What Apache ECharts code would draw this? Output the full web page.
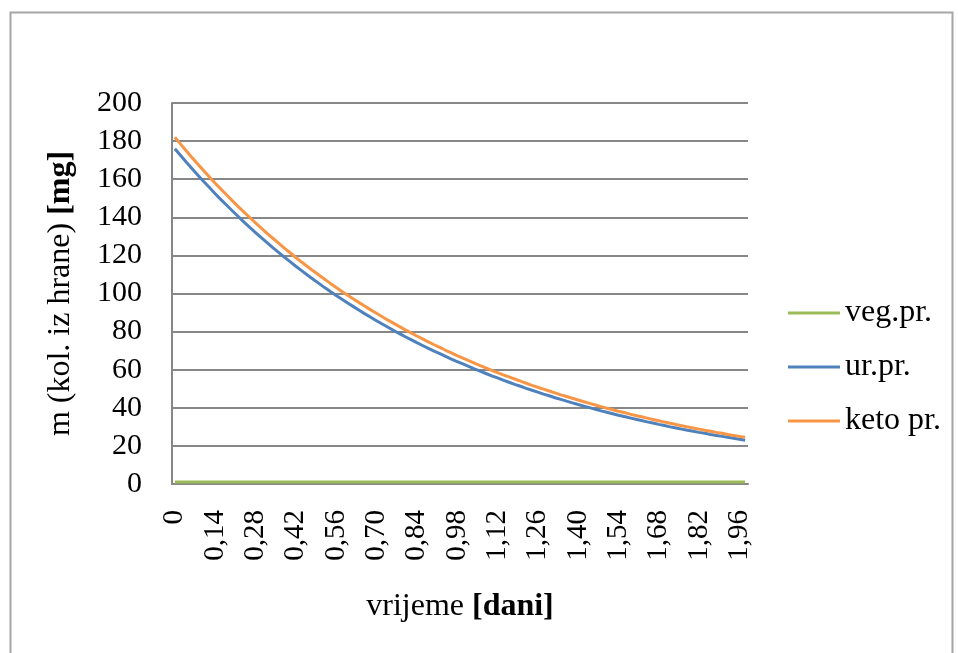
<!DOCTYPE html>
<html>
<head>
<meta charset="utf-8">
<script src="https://cdn.jsdelivr.net/npm/echarts@6/dist/echarts.min.js"></script>
<style>
html,body{margin:0;padding:0;background:#fff;}
#chart{width:958px;height:653px;}
</style>
</head>
<body>
<div id="chart"></div>
<script>
const categories = ['0','0,02','0,04','0,06','0,08','0,10','0,12','0,14','0,16','0,18',
'0,20','0,22','0,24','0,26','0,28','0,30','0,32','0,34','0,36','0,38',
'0,40','0,42','0,44','0,46','0,48','0,50','0,52','0,54','0,56','0,58',
'0,60','0,62','0,64','0,66','0,68','0,70','0,72','0,74','0,76','0,78',
'0,80','0,82','0,84','0,86','0,88','0,90','0,92','0,94','0,96','0,98',
'1,00','1,02','1,04','1,06','1,08','1,10','1,12','1,14','1,16','1,18',
'1,20','1,22','1,24','1,26','1,28','1,30','1,32','1,34','1,36','1,38',
'1,40','1,42','1,44','1,46','1,48','1,50','1,52','1,54','1,56','1,58',
'1,60','1,62','1,64','1,66','1,68','1,70','1,72','1,74','1,76','1,78',
'1,80','1,82','1,84','1,86','1,88','1,90','1,92','1,94','1,96','1,98'];

const vegValues = [1,1,1,1,1,1,1,1,1,1, 1,1,1,1,1,1,1,1,1,1, 1,1,1,1,1,1,1,1,1,1, 1,1,1,1,1,1,1,1,1,1, 1,1,1,1,1,1,1,1,1,1,
1,1,1,1,1,1,1,1,1,1, 1,1,1,1,1,1,1,1,1,1, 1,1,1,1,1,1,1,1,1,1, 1,1,1,1,1,1,1,1,1,1, 1,1,1,1,1,1,1,1,1,1];

const urValues = [176.0,172.4,168.9,165.5,162.1,158.8,155.6,152.4,149.3,146.3,
143.3,140.4,137.5,134.7,132.0,129.3,126.7,124.1,121.6,119.1,
116.7,114.3,112.0,109.7,107.5,105.3,103.1,101.0,99.0,97.0,
95.0,93.1,91.2,89.3,87.5,85.7,84.0,82.3,80.6,78.9,
77.3,75.8,74.2,72.7,71.2,69.8,68.4,67.0,65.6,64.3,
63.0,61.7,60.4,59.2,58.0,56.8,55.7,54.5,53.4,52.3,
51.3,50.2,49.2,48.2,47.2,46.3,45.3,44.4,43.5,42.6,
41.7,40.9,40.1,39.2,38.4,37.7,36.9,36.1,35.4,34.7,
34.0,33.3,32.6,32.0,31.3,30.7,30.0,29.4,28.8,28.2,
27.7,27.1,26.6,26.0,25.5,25.0,24.5,24.0,23.5,23.0];

const ketoValues = [182.0,178.4,174.8,171.3,167.8,164.5,161.2,157.9,154.8,151.7,
148.6,145.6,142.7,139.9,137.1,134.3,131.6,129.0,126.4,123.8,
121.4,118.9,116.5,114.2,111.9,109.7,107.5,105.3,103.2,101.1,
99.1,97.1,95.2,93.3,91.4,89.6,87.8,86.0,84.3,82.6,
80.9,79.3,77.7,76.2,74.6,73.1,71.7,70.2,68.8,67.4,
66.1,64.8,63.5,62.2,60.9,59.7,58.5,57.3,56.2,55.1,
54.0,52.9,51.8,50.8,49.8,48.8,47.8,46.8,45.9,45.0,
44.1,43.2,42.3,41.5,40.6,39.8,39.0,38.2,37.5,36.7,
36.0,35.3,34.6,33.9,33.2,32.5,31.9,31.2,30.6,30.0,
29.4,28.8,28.2,27.7,27.1,26.6,26.0,25.5,25.0,24.5];

const yTicks = {min: 0, max: 200, interval: 20};
const seriesNames = ['veg.pr.', 'ur.pr.', 'keto pr.'];
const seriesColors = ['#9BBB59', '#4F81BD', '#F79646'];

const FONT = '"Liberation Serif", "Times New Roman", serif';
const chart = echarts.init(document.getElementById('chart'), null, {renderer: 'canvas'});

const mk = (i, data) => ({
  name: seriesNames[i], type: 'line', data: data,
  showSymbol: false, symbol: 'none', smooth: false,
  lineStyle: {color: seriesColors[i], width: 3},
  itemStyle: {color: seriesColors[i]},
  animation: false
});

chart.setOption({
  animation: false,
  backgroundColor: '#ffffff',
  textStyle: {fontFamily: FONT},
  graphic: [{
    type: 'rect', left: 8, top: 10,
    shape: {width: 942, height: 700},
    style: {fill: 'none', stroke: '#a6a6a6', lineWidth: 2},
    silent: true
  }],
  grid: {left: 172, top: 103, right: 210, bottom: 169, containLabel: false},
  legend: {
    orient: 'vertical', left: 788, top: 297, padding: 0,
    icon: 'rect', itemWidth: 52, itemHeight: 3, itemGap: 22,
    data: seriesNames,
    textStyle: {fontFamily: FONT, fontSize: 32, color: '#000', lineHeight: 30},
    selectedMode: false
  },
  xAxis: {
    type: 'category', data: categories, boundaryGap: true,
    name: 'vrijeme {b|[dani]}', nameLocation: 'middle', nameGap: 107,
    nameTextStyle: {fontFamily: FONT, fontSize: 32, color: '#000',
      rich: {b: {fontFamily: FONT, fontSize: 32, fontWeight: 'bold', color: '#000'}}},
    axisLine: {show: true, lineStyle: {color: '#878787', width: 2}},
    axisTick: {show: false},
    axisLabel: {interval: 6, rotate: 90, margin: 26, fontFamily: FONT, fontSize: 29, color: '#000'},
    splitLine: {show: false}
  },
  yAxis: {
    type: 'value', min: yTicks.min, max: yTicks.max, interval: yTicks.interval,
    name: 'm (kol. iz hrane) {b|[mg]}', nameLocation: 'middle', nameRotate: 90, nameGap: 95,
    nameTextStyle: {fontFamily: FONT, fontSize: 32, color: '#000',
      rich: {b: {fontFamily: FONT, fontSize: 32, fontWeight: 'bold', color: '#000'}}},
    axisLine: {show: true, lineStyle: {color: '#878787', width: 2}},
    axisTick: {show: false},
    axisLabel: {margin: 30, fontFamily: FONT, fontSize: 30, color: '#000'},
    splitLine: {show: true, lineStyle: {color: '#878787', width: 2}}
  },
  series: [mk(0, vegValues), mk(1, urValues), mk(2, ketoValues)]
});
</script>
</body>
</html>
